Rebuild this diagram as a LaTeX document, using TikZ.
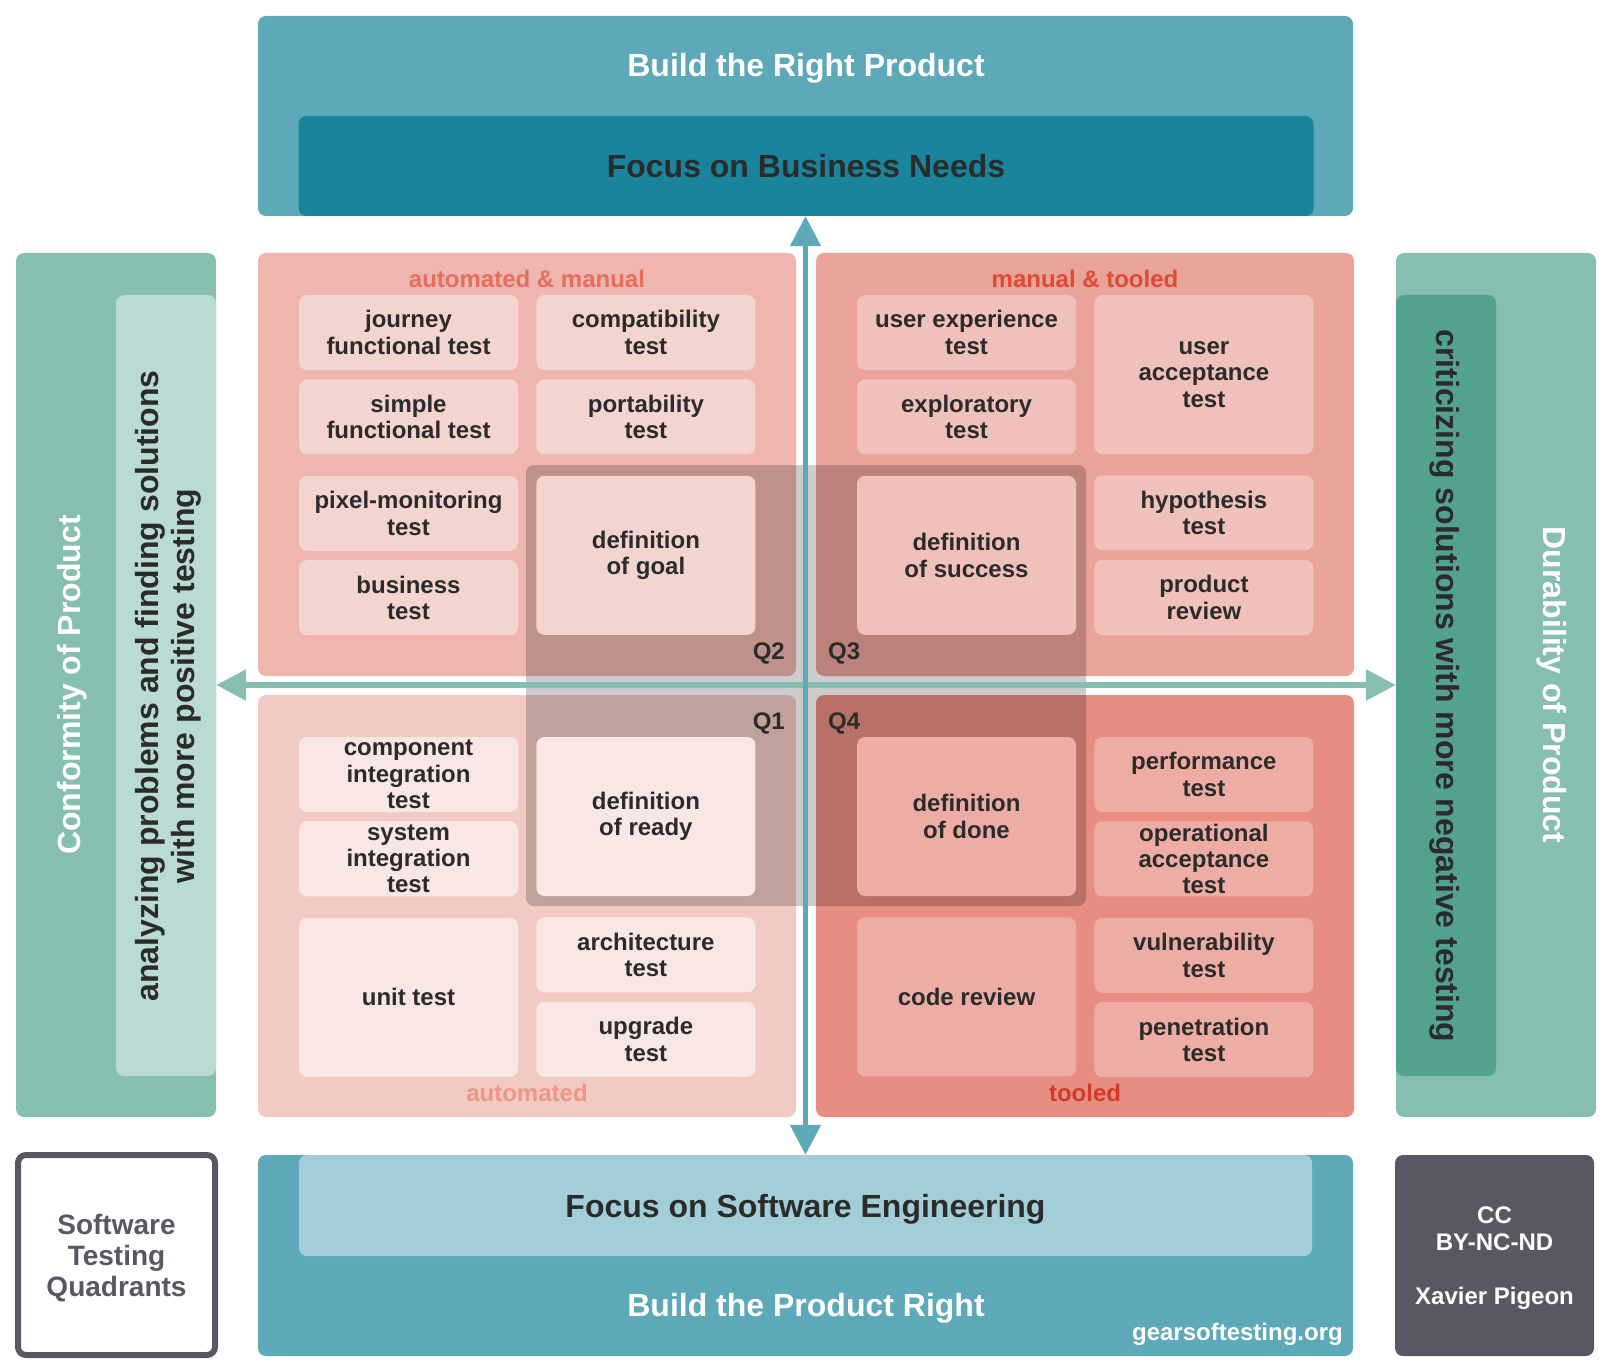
\documentclass[tikz,border=0pt]{standalone}
\usepackage{fontspec}
\setmainfont{Liberation Sans}
\usepackage{tikz}
\usetikzlibrary{arrows.meta,positioning}

\definecolor{sky}{HTML}{5DA9B9}
\definecolor{deepsky}{HTML}{19849B}
\definecolor{palesky}{HTML}{A3CED7}
\definecolor{mint}{HTML}{86BEB0}
\definecolor{palemint}{HTML}{BADAD4}
\definecolor{deepmint}{HTML}{53A28F}
\definecolor{slate}{HTML}{595862}
\definecolor{ink}{HTML}{2B2B2B}
\definecolor{qtwo}{HTML}{EEB6AF}
\definecolor{qtwocell}{HTML}{F4D4CF}
\definecolor{qthree}{HTML}{E9A399}
\definecolor{qthreecell}{HTML}{F0C0BA}
\definecolor{qone}{HTML}{F2CAC4}
\definecolor{qonecell}{HTML}{F8E7E4}
\definecolor{qfour}{HTML}{E88D81}
\definecolor{qfourcell}{HTML}{EDADA4}
\definecolor{labtwo}{HTML}{E56E5E}
\definecolor{labthree}{HTML}{DD4B36}
\definecolor{labone}{HTML}{F09584}
\definecolor{labfour}{HTML}{D13A26}

\begin{document}
\begin{tikzpicture}[x=1pt,y=-1pt,
  >={Triangle[length=30pt,width=30pt]},
  panel/.style={rectangle,rounded corners=8pt,inner sep=0pt},
  cell/.style={panel,minimum width=219pt,minimum height=75pt,align=center,text=ink,
    font=\bfseries\fontsize{24}{26.3}\selectfont},
  tall/.style={minimum height=159pt},
  c2/.style={cell,fill=qtwocell},
  c3/.style={cell,fill=qthreecell},
  c1/.style={cell,fill=qonecell},
  c4/.style={cell,fill=qfourcell},
  big text/.style={inner sep=0pt,align=center,font=\bfseries\fontsize{32}{36}\selectfont},
  small text/.style={inner sep=0pt,align=center,font=\bfseries\fontsize{24}{26.5}\selectfont}]

  \useasboundingbox (0,0) rectangle (1612,1372);

  \node[panel,fill=mint,minimum width=200pt,minimum height=864pt] (leftband) at (116,685) {};
  \node[panel,fill=palemint,minimum width=100pt,minimum height=781pt] (leftinner) at (166,685.5) {};
  \node[big text,text=white,rotate=90] (conform) at (72,685) {Conformity of Product};
  \node[big text,text=ink,rotate=90] (analyze) at (168,686) {analyzing problems and finding solutions\\with more positive testing};

  \node[panel,fill=mint,minimum width=200pt,minimum height=864pt] (rightband) at (1496,685) {};
  \node[panel,fill=deepmint,minimum width=100pt,minimum height=781pt] (rightinner) at (1446,685.5) {};
  \node[big text,text=ink,rotate=-90] (critic) at (1445,686) {criticizing solutions with more negative testing};
  \node[big text,text=white,rotate=-90] (durable) at (1552,685) {Durability of Product};

  \node[panel,fill=sky,minimum width=1095pt,minimum height=200pt] (top) at (805.5,116) {};
  \node[panel,fill=deepsky,minimum width=1015pt,minimum height=100pt,big text,text=ink] (needs) at (806,166) {Focus on Business Needs};
  \node[big text,text=white] (rightproduct) at (806,68) {Build the Right Product};

  \node[panel,fill=sky,minimum width=1095pt,minimum height=201pt] (bottom) at (805.5,1255.5) {};
  \node[panel,fill=palesky,minimum width=1013pt,minimum height=101pt] (engineering) at (805.5,1205.5) {};
  \node[big text,text=ink] (engtext) at (805.5,1209) {Focus on Software Engineering};
  \node[big text,text=white] (productright) at (806,1308) {Build the Product Right};
  \node[small text,text=white,anchor=east] (site) at (1343,1334) {gearsoftesting.org};

  \node[panel,draw=slate,line width=6pt,minimum width=197pt,minimum height=200pt] (title) at (116.5,1255) {};
  \node[text=slate,align=center,inner sep=0pt,font=\bfseries\fontsize{28}{31}\selectfont] (titletext) at (116.5,1258) {Software\\Testing\\Quadrants};
  \node[panel,fill=slate,minimum width=199pt,minimum height=201pt] (licence) at (1494.5,1255.5) {};
  \node[small text,text=white] (author) at (1494.5,1258.5) {CC\\BY-NC-ND\\[28pt]Xavier Pigeon};

  \node[panel,fill=qtwo,minimum width=538pt,minimum height=423pt] (q2) at (527,464.5) {};
  \node[panel,fill=qthree,minimum width=538pt,minimum height=423pt] (q3) at (1085,464.5) {};
  \node[panel,fill=qone,minimum width=538pt,minimum height=422pt] (q1) at (527,906) {};
  \node[panel,fill=qfour,minimum width=538pt,minimum height=422pt] (q4) at (1085,906) {};

  \node[panel,fill=black,fill opacity=0.2,minimum width=560pt,minimum height=441pt] (core) at (806,685.5) {};

  \node[c2] (journey) at (408.5,332.5) {journey\\functional test};
  \node[c2,below=9pt of journey] (simple) {simple\\functional test};
  \node[c2,below=21pt of simple] (pixel) {pixel-monitoring\\test};
  \node[c2,below=9pt of pixel] (business) {business\\test};
  \node[c2,right=18pt of journey] (compat) {compatibility\\test};
  \node[c2,below=9pt of compat] (porta) {portability\\test};
  \node[c2,tall,below=21pt of porta] (goal) {definition\\of goal};

  \node[c3] (ux) at (966.5,332.5) {user experience\\test};
  \node[c3,below=9pt of ux] (explore) {exploratory\\test};
  \node[c3,tall,below=21pt of explore] (success) {definition\\of success};
  \node[c3,tall,anchor=north west] (uat) at ([xshift=18pt]ux.north east) {user\\acceptance\\test};
  \node[c3,below=21pt of uat] (hypo) {hypothesis\\test};
  \node[c3,below=9pt of hypo] (review) {product\\review};

  \node[c1] (component) at (408.5,774.5) {component\\integration\\test};
  \node[c1,below=9pt of component] (system) {system\\integration\\test};
  \node[c1,tall,below=21pt of system] (unit) {unit test};
  \node[c1,tall,anchor=north west] (ready) at ([xshift=18pt]component.north east) {definition\\of ready};
  \node[c1,below=21pt of ready] (archi) {architecture\\test};
  \node[c1,below=9pt of archi] (upgrade) {upgrade\\test};

  \node[c4,tall] (done) at (966.5,816.5) {definition\\of done};
  \node[c4,tall,below=21pt of done] (codereview) {code review};
  \node[c4,anchor=north west] (perf) at ([xshift=18pt]done.north east) {performance\\test};
  \node[c4,below=9pt of perf] (ops) {operational\\acceptance\\test};
  \node[c4,below=21pt of ops] (vuln) {vulnerability\\test};
  \node[c4,below=9pt of vuln] (pentest) {penetration\\test};

  \node[small text,text=labtwo] (mixed) at (527,279) {automated \& manual};
  \node[small text,text=labthree] (handtool) at (1085,279) {manual \& tooled};
  \node[small text,text=labone] (auto) at (527,1093) {automated};
  \node[small text,text=labfour] (tooled) at (1085,1093) {tooled};

  \node[small text,text=ink,anchor=east] (n2) at (785,653) {Q2};
  \node[small text,text=ink,anchor=west] (n3) at (828,653) {Q3};
  \node[small text,text=ink,anchor=east] (n1) at (785,723) {Q1};
  \node[small text,text=ink,anchor=west] (n4) at (828,723) {Q4};

  \path[<->]
    (leftband) edge[mint,line width=6pt] (rightband)
    (top) edge[sky,line width=5pt] (bottom);

\end{tikzpicture}
\end{document}
